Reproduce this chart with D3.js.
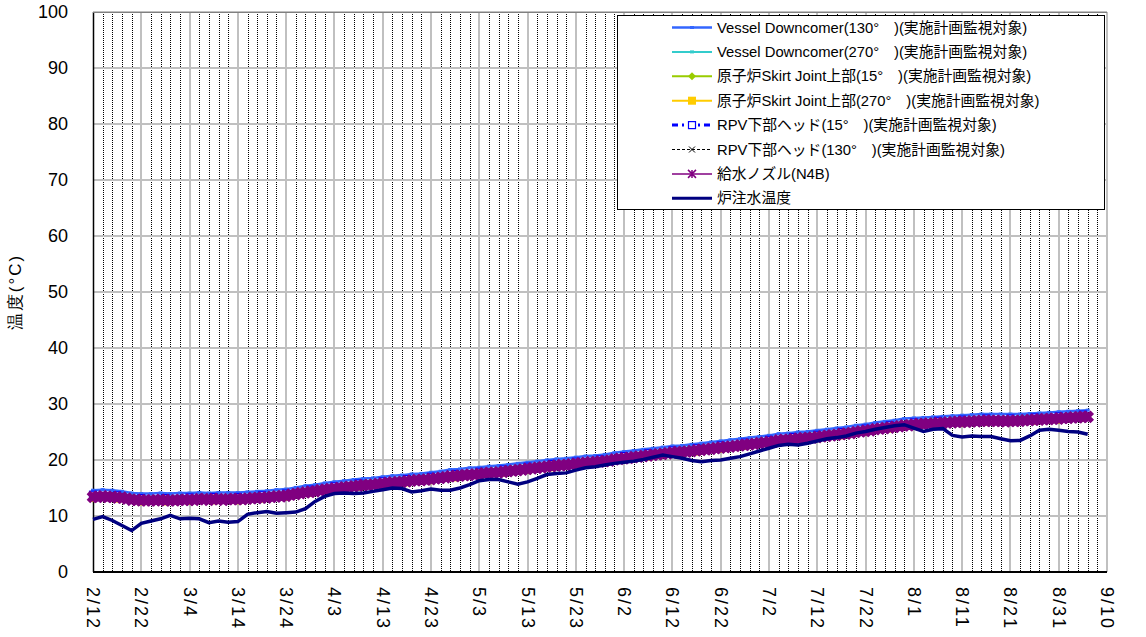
<!DOCTYPE html>
<meta charset="utf-8" />
<style>
  body { margin: 0; background: #fff; }
  text { font-family: "Liberation Sans", Arial, sans-serif; }
  .jp { font-family: "Liberation Sans", "Noto Sans CJK JP", sans-serif; }
</style>
<body>
  <svg id="chart" width="1146" height="637"></svg>
</body>
<script src="https://d3js.org/d3.v7.min.js"></script>
<script>
  // start date of the x axis (non-leap year, as 2/22 + 10 days = 3/4)
  const startDate = new Date(Date.UTC(2015, 1, 12));
  const endDate = new Date(Date.UTC(2015, 8, 10));

  // x tick labels every 10 days
  const tickDays = d3.range(0, 211, 10);
  const yTicks = [0, 10, 20, 30, 40, 50, 60, 70, 80, 90, 100];

  // 給水ノズル(N4B), one value per day from 2/12
  const feedNozzle = [
    13.4, 13.4, 13.5, 13.4, 13.4, 13.3, 13.3, 13.1, 12.9, 12.9,
    12.8, 12.8, 12.8, 12.8, 12.9, 12.8, 12.8, 12.8, 12.9, 12.9,
    12.9, 12.9, 13.0, 13.0, 12.9, 13.0, 13.0, 12.9, 13.0, 13.0,
    13.0, 13.0, 13.1, 13.2, 13.2, 13.3, 13.3, 13.4, 13.5, 13.5,
    13.6, 13.8, 13.9, 14.1, 14.2, 14.3, 14.4, 14.6, 14.7, 14.8,
    14.9, 15.0, 15.1, 15.2, 15.3, 15.4, 15.5, 15.5, 15.6, 15.7,
    15.8, 15.9, 16.0, 16.0, 16.1, 16.2, 16.3, 16.4, 16.4, 16.5,
    16.6, 16.7, 16.8, 16.9, 17.1, 17.1, 17.2, 17.3, 17.4, 17.4,
    17.5, 17.6, 17.7, 17.7, 17.8, 17.9, 18.0, 18.1, 18.2, 18.3,
    18.4, 18.5, 18.6, 18.7, 18.8, 18.9, 19.0, 19.1, 19.1, 19.2,
    19.3, 19.4, 19.5, 19.6, 19.6, 19.7, 19.8, 19.9, 20.1, 20.2,
    20.3, 20.4, 20.5, 20.6, 20.7, 20.8, 20.9, 21.0, 21.1, 21.2,
    21.3, 21.4, 21.4, 21.5, 21.6, 21.7, 21.8, 21.9, 22.0, 22.1,
    22.2, 22.3, 22.4, 22.5, 22.6, 22.7, 22.8, 22.9, 23.0, 23.1,
    23.2, 23.3, 23.5, 23.6, 23.6, 23.7, 23.8, 23.9, 23.9, 24.0,
    24.1, 24.2, 24.3, 24.4, 24.5, 24.6, 24.7, 24.8, 25.0, 25.1,
    25.2, 25.3, 25.5, 25.6, 25.7, 25.8, 25.9, 26.0, 26.2, 26.2,
    26.3, 26.4, 26.4, 26.5, 26.5, 26.6, 26.6, 26.7, 26.7, 26.8,
    26.8, 26.8, 26.9, 26.9, 27.0, 27.0, 27.0, 27.0, 27.0, 26.9,
    27.0, 27.0, 27.0, 27.1, 27.1, 27.2, 27.2, 27.3, 27.3, 27.4,
    27.4, 27.5, 27.5, 27.6, 27.6, 27.7, 27.7
  ];

  // Vessel Downcomer(130°), every 2 days
  const vd130 = [
    14.6, 14.7, 14.6, 14.4, 14.1, 14.0, 14.0, 14.1, 14.0, 14.1,
    14.1, 14.2, 14.1, 14.2, 14.2, 14.2, 14.3, 14.4, 14.5, 14.7,
    14.8, 15.1, 15.4, 15.6, 15.9, 16.1, 16.3, 16.5, 16.7, 16.8,
    17.0, 17.2, 17.3, 17.5, 17.6, 17.8, 18.0, 18.3, 18.4, 18.6,
    18.7, 18.9, 19.0, 19.2, 19.4, 19.6, 19.8, 20.0, 20.2, 20.3,
    20.5, 20.7, 20.8, 21.0, 21.3, 21.5, 21.7, 21.9, 22.1, 22.3,
    22.5, 22.6, 22.8, 23.0, 23.2, 23.4, 23.6, 23.8, 24.0, 24.2,
    24.4, 24.7, 24.8, 25.0, 25.1, 25.3, 25.5, 25.7, 25.9, 26.2,
    26.4, 26.7, 26.9, 27.1, 27.4, 27.5, 27.6, 27.7, 27.8, 27.9,
    28.0, 28.1, 28.2, 28.2, 28.2, 28.2, 28.2, 28.3, 28.4, 28.5,
    28.6, 28.7, 28.8, 28.9
  ];

  // the other monitored points, every 5 days
  const vd270 = [14.1, 14.0, 13.5, 13.5, 13.6, 13.7, 13.7, 14.0, 14.3, 15.0, 15.6, 16.1, 16.5, 16.9, 17.3, 17.8, 18.2, 18.6, 19.1, 19.6, 20.0, 20.4, 21.0, 21.5, 22.0, 22.4, 22.9, 23.4, 23.9, 24.4, 24.8, 25.3, 25.9, 26.5, 27.0, 27.3, 27.5, 27.7, 27.7, 27.9, 28.1, 28.4];
  const skirt15 = [13.3, 13.2, 12.7, 12.7, 12.8, 12.9, 12.9, 13.2, 13.5, 14.2, 14.8, 15.3, 15.7, 16.1, 16.5, 17.0, 17.4, 17.8, 18.3, 18.8, 19.2, 19.6, 20.2, 20.7, 21.2, 21.6, 22.1, 22.6, 23.1, 23.6, 24.0, 24.5, 25.1, 25.7, 26.2, 26.5, 26.7, 26.9, 26.9, 27.1, 27.3, 27.6];
  const skirt270 = [13.2, 13.1, 12.6, 12.6, 12.7, 12.8, 12.8, 13.1, 13.4, 14.1, 14.7, 15.2, 15.6, 16.0, 16.4, 16.9, 17.3, 17.7, 18.2, 18.7, 19.1, 19.5, 20.1, 20.6, 21.1, 21.5, 22.0, 22.5, 23.0, 23.5, 23.9, 24.4, 25.0, 25.6, 26.1, 26.4, 26.6, 26.8, 26.8, 27.0, 27.2, 27.5];
  const rpv15 = [13.8, 13.7, 13.2, 13.2, 13.3, 13.4, 13.4, 13.7, 14.0, 14.7, 15.3, 15.8, 16.2, 16.6, 17.0, 17.5, 17.9, 18.3, 18.8, 19.3, 19.7, 20.1, 20.7, 21.2, 21.7, 22.1, 22.6, 23.1, 23.6, 24.1, 24.5, 25.0, 25.6, 26.2, 26.7, 27.0, 27.2, 27.4, 27.4, 27.6, 27.8, 28.1];
  const rpv130 = [13.4, 13.3, 12.8, 12.8, 12.9, 13.0, 13.0, 13.3, 13.6, 14.3, 14.9, 15.4, 15.8, 16.2, 16.6, 17.1, 17.5, 17.9, 18.4, 18.9, 19.3, 19.7, 20.3, 20.8, 21.3, 21.7, 22.2, 22.7, 23.2, 23.7, 24.1, 24.6, 25.2, 25.8, 26.3, 26.6, 26.8, 27.0, 27.0, 27.2, 27.4, 27.7];

  // 炉注水温度, every 2 days
  const injection = [
    9.4, 9.9, 9.2, 8.3, 7.4, 8.7, 9.1, 9.5, 10.1, 9.5,
    9.6, 9.5, 8.8, 9.1, 8.9, 9.0, 10.3, 10.6, 10.8, 10.5,
    10.6, 10.7, 11.3, 12.6, 13.5, 14.0, 14.1, 14.0, 14.1, 14.4,
    14.7, 15.0, 14.9, 14.3, 14.5, 14.8, 14.6, 14.6, 15.0, 15.6,
    16.3, 16.5, 16.5, 16.1, 15.7, 16.1, 16.7, 17.4, 17.6, 17.7,
    18.2, 18.6, 18.8, 19.1, 19.4, 19.6, 19.8, 20.1, 20.5, 20.9,
    20.6, 20.3, 19.9, 19.7, 19.9, 20.0, 20.3, 20.6, 21.1, 21.6,
    22.1, 22.6, 22.8, 22.7, 23.0, 23.4, 23.8, 24.0, 24.3, 24.8,
    25.1, 25.5, 25.8, 26.1, 26.3, 25.7, 25.1, 25.5, 25.6, 24.4,
    24.1, 24.3, 24.2, 24.2, 23.8, 23.45, 23.5, 24.3, 25.3, 25.5,
    25.3, 25.1, 25.0, 24.6
  ];

  const series = [
    { name: "Vessel Downcomer(130°\u3000)(実施計画監視対象)", values: vd130, step: 2, color: "#3366ff", width: 2.5, dash: null, marker: "smallsq" },
    { name: "Vessel Downcomer(270°\u3000)(実施計画監視対象)", values: vd270, step: 5, color: "#33cccc", width: 2, dash: null, marker: "smallsq" },
    { name: "原子炉Skirt Joint上部(15°\u3000)(実施計画監視対象)", values: skirt15, step: 5, color: "#99cc00", width: 2, dash: null, marker: "diamond" },
    { name: "原子炉Skirt Joint上部(270°\u3000)(実施計画監視対象)", values: skirt270, step: 5, color: "#ffcc00", width: 2, dash: null, marker: "square" },
    { name: "RPV下部ヘッド(15°\u3000)(実施計画監視対象)", values: rpv15, step: 5, color: "#0000ff", width: 3, dash: "6,4,2,4", marker: "hollow" },
    { name: "RPV下部ヘッド(130°\u3000)(実施計画監視対象)", values: rpv130, step: 5, color: "#000000", width: 1, dash: "3,2", marker: "cross" },
    { name: "給水ノズル(N4B)", values: feedNozzle, step: 1, color: "#800080", width: 1.5, dash: null, marker: "star" },
    { name: "炉注水温度", values: injection, step: 2, color: "#000080", width: 3.5, dash: null, marker: null }
  ];

  const svg = d3.select("#chart");
  const margin = { top: 12, right: 39, bottom: 65, left: 93 };
  const W = +svg.attr("width"), H = +svg.attr("height");

  const x = d3.scaleUtc().domain([startDate, endDate]).range([margin.left, W - margin.right]);
  const y = d3.scaleLinear().domain([0, 100]).range([H - margin.bottom, margin.top]);

  const dayDate = (d) => d3.utcDay.offset(startDate, d);
  const fmt = d3.utcFormat("%-m/%-d");
  const px = (v) => Math.round(v) + 0.5;

  // vertical grid: dotted every 2 days, grey every 10 days
  const grid = svg.append("g");
  grid.selectAll(".minor")
    .data(d3.range(2, 210, 2).filter((d) => d % 10 !== 0))
    .join("line")
    .attr("x1", (d) => px(x(dayDate(d)))).attr("x2", (d) => px(x(dayDate(d))))
    .attr("y1", y(100)).attr("y2", y(0))
    .attr("stroke", "#000").attr("stroke-width", 1).attr("stroke-dasharray", "1,1");
  grid.selectAll(".major")
    .data(tickDays.slice(1))
    .join("line")
    .attr("x1", (d) => Math.round(x(dayDate(d)))).attr("x2", (d) => Math.round(x(dayDate(d))))
    .attr("y1", y(100)).attr("y2", y(0))
    .attr("stroke", "#c0c0c0").attr("stroke-width", 2);
  grid.selectAll(".hgrid")
    .data(yTicks.slice(1))
    .join("line")
    .attr("x1", x(startDate)).attr("x2", x(endDate))
    .attr("y1", (d) => y(d)).attr("y2", (d) => y(d))
    .attr("stroke", "#c0c0c0").attr("stroke-width", 2);

  // axes
  svg.append("line").attr("x1", px(x(startDate))).attr("x2", px(x(startDate)))
    .attr("y1", y(100)).attr("y2", y(0)).attr("stroke", "#000").attr("stroke-width", 1.5);
  svg.append("line").attr("x1", x(startDate)).attr("x2", x(endDate))
    .attr("y1", y(0)).attr("y2", y(0)).attr("stroke", "#000").attr("stroke-width", 2);
  svg.append("line").attr("x1", x(startDate)).attr("x2", x(endDate))
    .attr("y1", px(y(100))).attr("y2", px(y(100))).attr("stroke", "#808080").attr("stroke-width", 1);

  svg.append("g").selectAll("text")
    .data(yTicks)
    .join("text")
    .attr("x", 68).attr("y", (d) => y(d))
    .attr("text-anchor", "end").attr("dominant-baseline", "central")
    .attr("font-size", 18).text((d) => d);

  svg.append("g").selectAll("text")
    .data(tickDays)
    .join("text")
    .attr("transform", (d) => `translate(${x(dayDate(d))},${y(0) + 15}) rotate(90)`)
    .attr("dominant-baseline", "central")
    .attr("font-size", 18).attr("letter-spacing", 2)
    .text((d) => fmt(dayDate(d)));

  svg.append("text")
    .attr("transform", `translate(15,${(y(0) + y(100)) / 2}) rotate(-90)`)
    .attr("text-anchor", "middle").attr("dominant-baseline", "central")
    .attr("font-family", "'Noto Sans CJK JP', sans-serif")
    .attr("font-size", 17).attr("letter-spacing", 2).text("温度(°C)");

  // marker shapes
  function drawMarker(g, type, color, big) {
    if (type === "smallsq") {
      g.append("rect").attr("x", -2).attr("y", -1.5).attr("width", 4).attr("height", 3).attr("fill", color);
    } else if (type === "diamond") {
      g.append("path").attr("d", "M0,-4L4,0L0,4L-4,0Z").attr("fill", color);
    } else if (type === "square") {
      g.append("rect").attr("x", -4).attr("y", -4).attr("width", 8).attr("height", 8).attr("fill", color);
    } else if (type === "hollow") {
      g.append("rect").attr("x", -3.5).attr("y", -3.5).attr("width", 7).attr("height", 7)
        .attr("fill", "#fff").attr("stroke", color).attr("stroke-width", 1.2);
    } else if (type === "cross") {
      g.append("path").attr("d", "M-3,-3L3,3M3,-3L-3,3").attr("stroke", color).attr("stroke-width", 1);
    } else if (type === "star") {
      const r = big ? 4.6 : 4;
      g.append("path").attr("d", `M0,${-r}V${r}M${-r},${-r}L${r},${r}M${r},${-r}L${-r},${r}`)
        .attr("stroke", color).attr("stroke-width", big ? 5 : 1.5);
    }
  }

  const line = d3.line().x((d) => x(d.date)).y((d) => y(d.value));
  const plot = svg.append("g");

  series.forEach((s) => {
    const pts = s.values.map((v, i) => ({ date: dayDate(i * s.step), value: v }));
    const g = plot.append("g");
    g.append("path").datum(pts)
      .attr("d", line).attr("fill", "none")
      .attr("stroke", s.color).attr("stroke-width", s.width)
      .attr("stroke-dasharray", s.dash);
    if (s.marker) {
      pts.forEach((p) => {
        const m = g.append("g").attr("transform", `translate(${x(p.date)},${y(p.value)})`);
        drawMarker(m, s.marker, s.color, true);
      });
    }
  });

  // legend
  const legend = svg.append("g");
  legend.append("rect")
    .attr("x", 617.5).attr("y", 15.5).attr("width", 487).attr("height", 194)
    .attr("fill", "#fff").attr("stroke", "#000").attr("stroke-width", 1);

  series.forEach((s, i) => {
    const ly = 27.5 + i * 24.4;
    const row = legend.append("g").attr("transform", `translate(0,${ly})`);
    row.append("line").attr("x1", 672).attr("x2", 712).attr("y1", 0).attr("y2", 0)
      .attr("stroke", s.color).attr("stroke-width", Math.min(s.width, 3)).attr("stroke-dasharray", s.dash);
    if (s.marker) {
      drawMarker(row.append("g").attr("transform", "translate(692,0)"), s.marker, s.color, false);
    }
    row.append("text").attr("class", "jp")
      .attr("x", 717).attr("y", 0).attr("dominant-baseline", "central")
      .attr("font-size", 14.8).text(s.name);
  });
</script>
